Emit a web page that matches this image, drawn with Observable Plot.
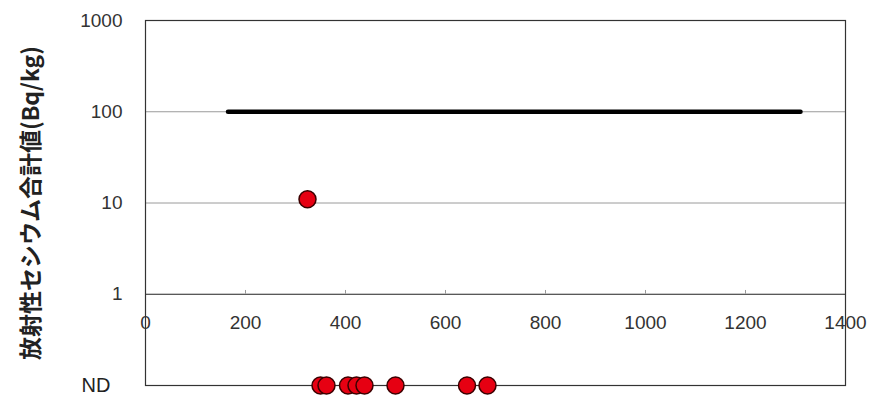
<!DOCTYPE html>
<html><head><meta charset="utf-8">
<script src="https://cdn.jsdelivr.net/npm/d3@7"></script>
<script src="https://cdn.jsdelivr.net/npm/@observablehq/plot@0.6"></script>
<style>body{margin:0;background:#fff}</style>
</head><body><div id="chart"></div>
<script>
// ---- data ----
const yTicks = [1, 10, 100, 1000];
const xTicks = [0, 200, 400, 600, 800, 1000, 1200, 1400];
const yLabel = "放射性セシウム合計値(Bq/kg)";
const ndLabel = "ND";
const ndLevel = 0.1;               // log-scale slot used for the "ND" row
const limitX = [165, 1310];        // reference line extent
const limitValue = 100;            // reference line level (Bq/kg)
const detectedX = [324];
const detectedY = [11];
const ndX = [350, 362, 405, 422, 438, 500, 643, 684];

const detected = detectedX.map((x, i) => ({x, y: detectedY[i]}));
const nd = ndX.map(x => ({x, y: ndLevel}));
const limit = limitX.map(x => ({x, y: limitValue}));
const minorTicks = xTicks.filter(v => v > 0 && v < 1400);

const font = "'Liberation Sans', Arial, sans-serif";

const chart = Plot.plot({
  width: 893,
  height: 404,
  marginTop: 20,
  marginBottom: 19,
  marginLeft: 145,
  marginRight: 48,
  style: {fontFamily: font, background: "#fff"},
  x: {domain: [0, 1400], axis: null},
  y: {type: "log", domain: [ndLevel, 1000], axis: null},
  marks: [
    Plot.ruleY([10, 100], {stroke: "#9a9a9a", strokeWidth: 1}),
    Plot.ruleY([1], {stroke: "#222", strokeWidth: 1.2}),
    Plot.ruleX(minorTicks, {y1: 1, y2: 1.1, stroke: "#999"}),
    Plot.frame({stroke: "#333", strokeWidth: 1.2}),
    Plot.lineY(limit, {x: "x", y: "y", stroke: "#000", strokeWidth: 4.5}),
    Plot.dot(detected, {x: "x", y: "y", r: 8.5, fill: "#e60012", stroke: "#3a0000", strokeWidth: 1.5}),
    Plot.dot(nd, {x: "x", y: "y", r: 8.5, fill: "#e60012", stroke: "#3a0000", strokeWidth: 1.5}),
    Plot.text(xTicks, {x: d => d, y: 1, dy: 29, text: d => String(d), fontSize: 19, fill: "#333"}),
    Plot.axisY({ticks: yTicks, tickFormat: d => String(d), tickSize: 0, tickPadding: 23, fontSize: 19, label: null, fill: "#333"}),
    Plot.text([ndLabel], {x: 0, y: ndLevel, dx: -35, text: d => d, textAnchor: "end", fontSize: 20, fill: "#222"}),
    Plot.text([yLabel], {frameAnchor: "left", dx: -114, rotate: -90, textAnchor: "middle", text: d => d, fontSize: 23, fontWeight: "bold", fill: "#222", fontFamily: "'Noto Sans CJK JP', sans-serif"})
  ]
});
document.getElementById("chart").appendChild(chart);
</script>
</body></html>
